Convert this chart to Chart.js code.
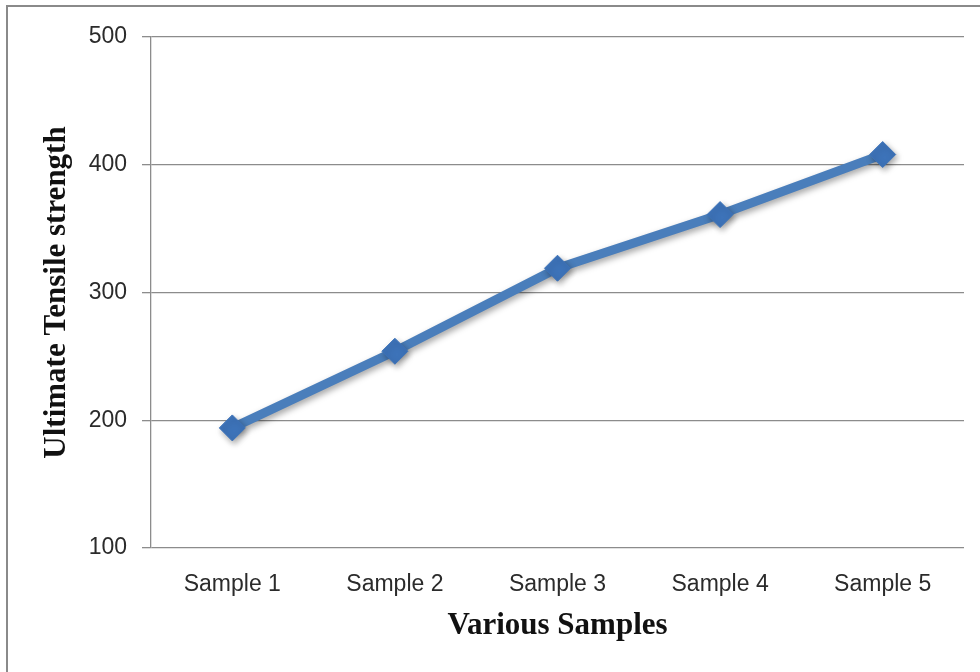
<!DOCTYPE html>
<html>
<head>
<meta charset="utf-8">
<script src="https://cdn.jsdelivr.net/npm/chart.js@4/dist/chart.umd.min.js"></script>
<style>
  html, body { margin:0; padding:0; background:#fff; overflow:hidden; }
  #frame { position:absolute; left:6px; top:5px; width:1000px; height:700px; border:2px solid #8a8a8a; }
  #wrap { position:absolute; left:0; top:0; width:980px; height:672px; }
</style>
</head>
<body>
<div id="frame"></div>
<div id="wrap"><canvas id="chart"></canvas></div>
<script>
// data
const samples = ["Sample 1", "Sample 2", "Sample 3", "Sample 4", "Sample 5"];
const strength = [194, 254, 319, 361, 408];
const yTicks = [100, 200, 300, 400, 500];

// soft drop shadow under the line + markers
const shadowPlugin = {
    id: 'shadow',
    beforeDatasetsDraw(chart){
        const c = chart.ctx;
        c.save();
        c.shadowColor = 'rgba(0,0,0,0.35)';
        c.shadowBlur = 6;
        c.shadowOffsetX = 2;
        c.shadowOffsetY = 3;
    },
    afterDatasetsDraw(chart){ chart.ctx.restore(); }
};

const tickFont = { family:'"Liberation Sans", Arial, sans-serif', size:23 };
const titleFont = { family:'"Liberation Serif", "Times New Roman", serif', size:31, weight:'bold' };

new Chart(document.getElementById('chart').getContext('2d'), {
    type:'line',
    data:{ labels: samples, datasets:[{
        data: strength,
        borderColor:'#4a7ebb', borderWidth:9, tension:0,
        pointStyle:'rectRot', pointRadius:13, pointHoverRadius:13,
        pointBackgroundColor:'#3d73b9', pointBorderColor:'#3d73b9', pointBorderWidth:1
    }]},
    options:{
        responsive:true, maintainAspectRatio:false, animation:false,
        layout:{ padding:{ left:0, top:37, right:16, bottom:0 } },
        plugins:{ legend:{display:false}, tooltip:{enabled:false} },
        scales:{
            x:{
                offset:true,
                grid:{ display:false, drawTicks:false },
                border:{ display:false },
                ticks:{ font:tickFont, color:'#2b2b2b', padding:23, maxRotation:0 },
                title:{ display:true, text:'Various Samples', font:titleFont, color:'#111', padding:{ top:0, bottom:27 } },
                afterFit: s => { s.height = 124; }
            },
            y:{
                min:100, max:500,
                afterBuildTicks: s => { s.ticks = yTicks.map(v => ({ value:v })); },
                grid:{ color:'#8c8c8c', lineWidth:1.3, tickLength:9 },
                border:{ display:true, color:'#8c8c8c', width:1.3 },
                ticks:{ font:tickFont, color:'#2b2b2b', padding:15 },
                title:{ display:true, text:'Ultimate Tensile strength', font:titleFont, color:'#111', padding:{ top:38, bottom:0 } },
                afterFit: s => { s.width = 151; }
            }
        }
    },
    plugins:[shadowPlugin]
});
</script>
</body>
</html>
